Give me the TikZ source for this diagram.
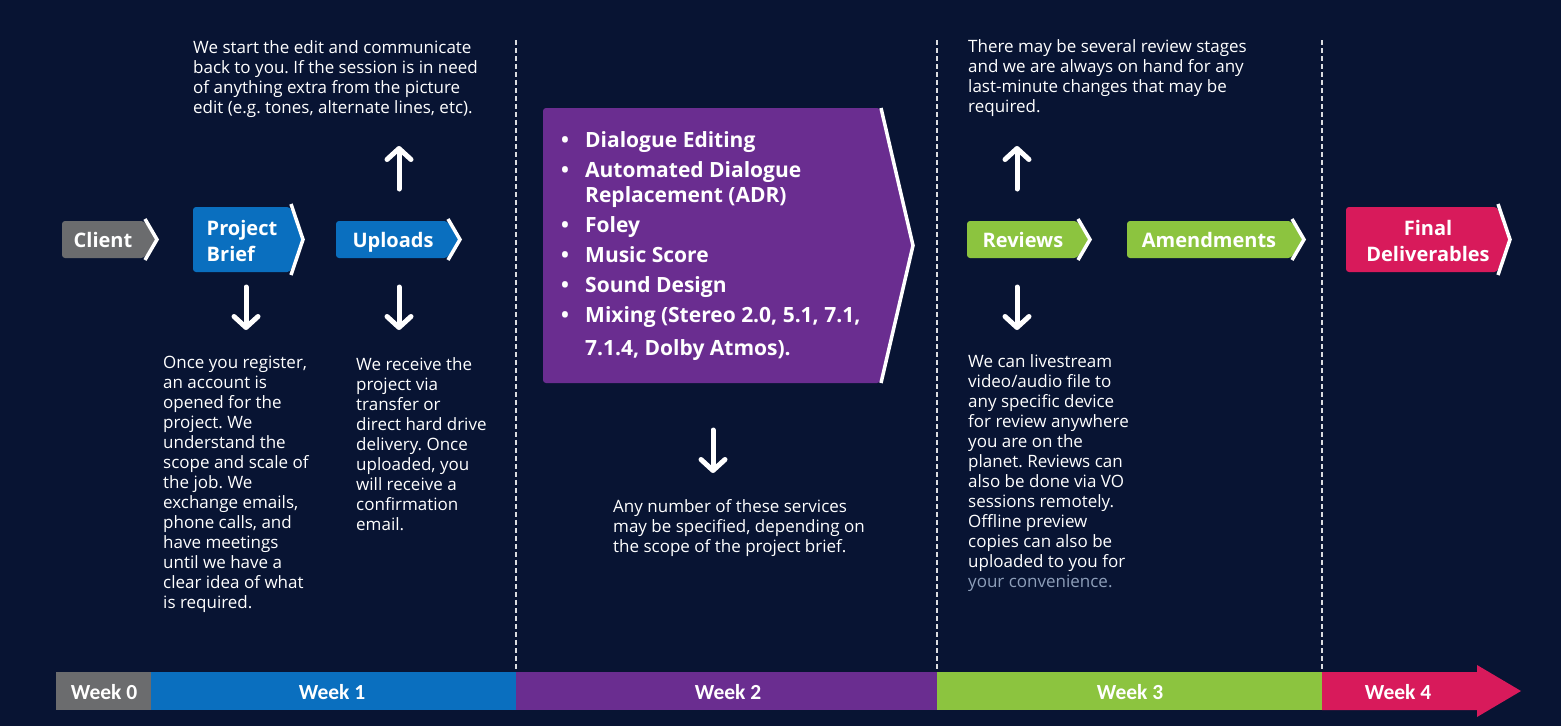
\documentclass[tikz,border=0pt]{standalone}
\usepackage{fontspec}
\setmainfont{Open Sans}
\newfontfamily\weekfont{Carlito}
\usetikzlibrary{arrows.meta}
\frenchspacing
\definecolor{bgc}{HTML}{081433}
\definecolor{grayc}{HTML}{6B6C6E}
\definecolor{bluec}{HTML}{0A6FBF}
\definecolor{purplec}{HTML}{6A2D90}
\definecolor{greenc}{HTML}{8CC43F}
\definecolor{pinkc}{HTML}{D81A5B}
\definecolor{convc}{HTML}{8E9FBA}
\newcommand\chevbox[7]{% x1,y1,x2,y2,tipx,color,extend
  \fill[#6,rounded corners=3pt] (#1,#2) -- (#3,#2) -- (#5,{(#2+#4)/2}) -- (#3,#4) -- (#1,#4) -- cycle;
  \draw[white,line width=3.5pt] (#3+1,#2-#7) -- (#5+1,{(#2+#4)/2}) -- (#3+1,#4+#7);
}
\begin{document}
\begin{tikzpicture}[x=1pt,y=-1pt,
  body/.style={anchor=base west,inner sep=0pt,align=left,text=white,font=\fontsize{17}{20}\selectfont},
  lbl/.style={anchor=base,inner sep=0pt,align=left,text=white,font=\fontsize{20}{26}\selectfont\bfseries},
  item/.style={anchor=base west,inner sep=0pt,text=white,font=\fontsize{21}{25}\selectfont\bfseries},
  wk/.style={inner sep=0pt,text=white,font=\fontsize{21.5}{25}\weekfont\bfseries},
  arr/.style={white,line width=5pt,line cap=round,-{Straight Barb[length=11pt,width=24pt,round]}},
  vdash/.style={white!85!bgc,line width=1.1pt,dash pattern=on 5pt off 3pt}]
\useasboundingbox (0,0) rectangle (1561,726);
\fill[bgc] (0,0) rectangle (1561,726);

% dashed separators
\coordinate (d1t) at (516,40); \coordinate (d1b) at (516,672);
\coordinate (d2t) at (937,40); \coordinate (d2b) at (937,672);
\coordinate (d3t) at (1322,40); \coordinate (d3b) at (1322,672);
\draw[vdash] (d1t) -- (d1b);
\draw[vdash] (d2t) -- (d2b);
\draw[vdash] (d3t) -- (d3b);

% chevron boxes (labels anchored on the baseline of their last line)
\chevbox{62}{221}{144}{258}{156}{grayc}{2}
\node[lbl] (client) at (103,247) {Client};
\chevbox{193}{207}{290}{272}{302}{bluec}{3}
\node[lbl] (brief) at (242,261) {Project\\Brief};
\chevbox{336}{221}{447}{258}{459}{bluec}{2}
\node[lbl] (uploads) at (393,247) {Uploads};
\chevbox{543}{108}{880}{383}{912}{purplec}{0}
\chevbox{967}{221}{1077}{258}{1089}{greenc}{2}
\node[lbl] (reviews) at (1023,247) {Reviews};
\chevbox{1127}{221}{1291}{258}{1303}{greenc}{2}
\node[lbl] (amend) at (1209,247) {Amendments};
\chevbox{1346}{207}{1497}{272}{1509}{pinkc}{3}
\node[lbl,align=center] (final) at (1428,261) {Final\\Deliverables};

% purple list
\foreach \n/\y/\t/\b in {i1/147/Dialogue Editing/1, i2/177/Automated Dialogue/1, i3/202/Replacement (ADR)/0, i4/232/Foley/1, i5/262/Music Score/1, i6/292/Sound Design/1, i7/322/{Mixing (Stereo 2.0, 5.1, 7.1,}/1, i8/355/{7.1.4, Dolby Atmos).}/0}{
  \node[item] (\n) at (585,\y) {\t};
  \ifnum\b=1 \node[item] (b\n) at (561,\y) {•}; \fi
}

% body texts (anchored on the baseline of their last line)
\node[body] (t1) at (193,113) {We start the edit and communicate\\back to you. If the session is in need\\of anything extra from the picture\\edit (e.g. tones, alternate lines, etc).};
\node[body] (t2) at (163,608) {Once you register,\\an account is\\opened for the\\project. We\\understand the\\scope and scale of\\the job. We\\exchange emails,\\phone calls, and\\have meetings\\until we have a\\clear idea of what\\is required.};
\node[body] (t3) at (356,530) {We receive the\\project via\\transfer or\\direct hard drive\\delivery. Once\\uploaded, you\\will receive a\\confirmation\\email.};
\node[body] (t4) at (613,552) {Any number of these services\\may be specified, depending on\\the scope of the project brief.};
\node[body] (t5) at (968,112) {There may be several review stages\\and we are always on hand for any\\last-minute changes that may be\\required.};
\node[body] (t6) at (968,587) {We can livestream\\video/audio file to\\any specific device\\for review anywhere\\you are on the\\planet. Reviews can\\also be done via VO\\sessions remotely.\\Offline preview\\copies can also be\\uploaded to you for\\\textcolor{convc}{your convenience.}};

% arrows
\coordinate (u1s) at (399,189); \coordinate (u1e) at (399,146);
\coordinate (u2s) at (1017,189); \coordinate (u2e) at (1017,146);
\coordinate (a1s) at (246,287); \coordinate (a1e) at (246,330);
\coordinate (a2s) at (399,287); \coordinate (a2e) at (399,330);
\coordinate (a3s) at (713,430); \coordinate (a3e) at (713,473);
\coordinate (a4s) at (1017,287); \coordinate (a4e) at (1017,330);
\draw[arr] (u1s) -- (u1e);
\draw[arr] (u2s) -- (u2e);
\draw[arr] (a1s) -- (a1e);
\draw[arr] (a2s) -- (a2e);
\draw[arr] (a3s) -- (a3e);
\draw[arr] (a4s) -- (a4e);

% timeline
\fill[grayc] (56,672) rectangle (151,710);
\fill[bluec] (151,672) rectangle (516,710);
\fill[purplec] (516,672) rectangle (937,710);
\fill[greenc] (937,672) rectangle (1322,710);
\fill[pinkc] (1322,672) -- (1477,672) -- (1477,665) -- (1521,691) -- (1477,717) -- (1477,710) -- (1322,710) -- cycle;
\node[wk] (w0) at (104,692) {Week 0};
\node[wk] (w1) at (332,692) {Week 1};
\node[wk] (w2) at (728,692) {Week 2};
\node[wk] (w3) at (1130,692) {Week 3};
\node[wk] (w4) at (1398,692) {Week 4};
\end{tikzpicture}
\end{document}
